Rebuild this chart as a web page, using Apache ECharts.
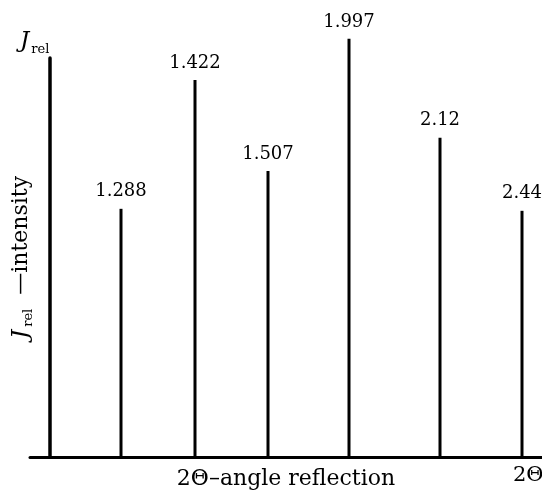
<!DOCTYPE html>
<html>
<head>
<meta charset="utf-8">
<script src="https://cdn.jsdelivr.net/npm/echarts@6/dist/echarts.min.js"></script>
<style>html,body{margin:0;padding:0;background:#fff}#c{width:542px;height:493px}</style>
</head>
<body>
<div id="c"></div>
<script>
// reflection labels (d values) shown above each line
const reflectionLabels = ['1.288', '1.422', '1.507', '1.997', '2.12', '2.44'];
// position of each line along the 2Θ axis (arbitrary units, y axis at 0)
const positions = [71, 145, 218, 299, 390, 472];
// relative intensity of each line (axis top = 100)
const intensities = [62.2, 94.5, 71.7, 104.8, 80.0, 61.7];

const FONT = 'DejaVu Serif';
const chart = echarts.init(document.getElementById('c'));
chart.setOption({
  animation: false,
  backgroundColor: '#fff',
  grid: { left: 30, right: 0, top: 58, bottom: 36, containLabel: false, outerBoundsMode: 'none' },
  title: [
    {
      text: '{j|J}{s|rel}',
      left: 15, top: 22,
      textStyle: {
        fontWeight: 'normal',
        rich: {
          j: { fontFamily: FONT, fontStyle: 'italic', fontWeight: 'normal', fontSize: 23, color: '#000' },
          s: { fontFamily: FONT, fontWeight: 'normal', fontSize: 13, color: '#000', padding: [16, 0, 0, 2] }
        }
      }
    },
    {
      text: '2Θ',
      left: 508, top: 460,
      textStyle: { fontFamily: FONT, fontSize: 21, fontWeight: 'normal', color: '#000' }
    }
  ],
  xAxis: {
    type: 'value', min: -20, max: 492,
    axisLine: { onZero: true, lineStyle: { color: '#000', width: 3 } },
    axisTick: { show: false }, axisLabel: { show: false }, splitLine: { show: false },
    name: '2Θ–angle reflection', nameLocation: 'middle', nameGap: 11,
    nameTextStyle: { fontFamily: FONT, fontSize: 22, color: '#000', verticalAlign: 'top' }
  },
  yAxis: {
    type: 'value', min: 0, max: 100,
    axisLine: { onZero: true, lineStyle: { color: '#000', width: 3.5 } },
    axisTick: { show: false }, axisLabel: { show: false }, splitLine: { show: false },
    name: '{j|J}{s|rel}{t|—intensity}', nameLocation: 'middle', nameGap: -5, nameRotate: 90,
    nameTextStyle: {
      rich: {
        j: { fontFamily: FONT, fontStyle: 'italic', fontSize: 23, color: '#000' },
        s: { fontFamily: FONT, fontSize: 13, color: '#000', padding: [14, 0, 0, 3] },
        t: { fontFamily: FONT, fontSize: 22, color: '#000', padding: [0, 0, 0, 14] }
      }
    }
  },
  series: [{
    type: 'bar',
    clip: false,
    barWidth: 3,
    itemStyle: { color: '#000' },
    data: positions.map((p, i) => [p, intensities[i]]),
    label: {
      show: true, position: 'top', distance: 8,
      fontFamily: FONT, fontSize: 18, color: '#000',
      formatter: (p) => reflectionLabels[p.dataIndex]
    }
  }]
});
</script>
</body>
</html>
